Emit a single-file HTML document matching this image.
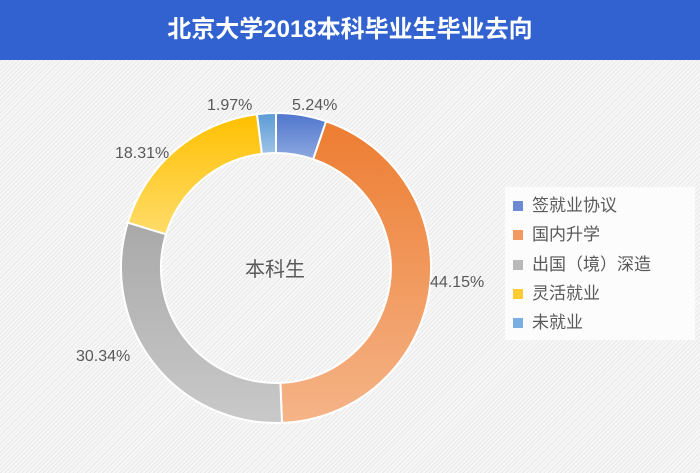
<!DOCTYPE html>
<html><head><meta charset="utf-8"><style>
body{margin:0;width:700px;height:473px;overflow:hidden;font-family:"Liberation Sans","Noto Sans CJK SC",sans-serif;}
.bg{position:absolute;left:0;top:0;width:700px;height:473px;background:repeating-linear-gradient(-45deg,#f7f7f7 0 2px,#e9e9e9 2px 3px);}
.title{position:absolute;left:0;top:0;width:700px;height:60px;background:#3162d0;color:#fff;font-weight:bold;font-size:24px;line-height:60px;text-align:center;}
.legend{position:absolute;left:505px;top:187px;width:190px;height:153px;background:rgba(255,255,255,0.75);}
.li{position:absolute;left:8px;font-size:17px;color:#595959;height:20px;line-height:20px;}
.li i{display:inline-block;width:10px;height:10px;margin-right:9px;vertical-align:0px;}
</style></head><body>
<div class="bg"></div>
<svg width="700" height="473" style="position:absolute;left:0;top:0">
<defs>
<linearGradient id="gb" x1="0" y1="0" x2="0" y2="1"><stop offset="0" stop-color="#4f75cc"/><stop offset="1" stop-color="#8ea9e0"/></linearGradient>
<linearGradient id="go" x1="0" y1="0" x2="0" y2="1"><stop offset="0" stop-color="#ed7d31"/><stop offset="1" stop-color="#f5b488"/></linearGradient>
<linearGradient id="gg" x1="0" y1="1" x2="0" y2="0"><stop offset="0" stop-color="#c9c9c9"/><stop offset="1" stop-color="#a9a9a9"/></linearGradient>
<linearGradient id="gy" x1="0" y1="0" x2="0" y2="1"><stop offset="0" stop-color="#ffc000"/><stop offset="1" stop-color="#ffdc6a"/></linearGradient>
<linearGradient id="gl" x1="0" y1="0" x2="0" y2="1"><stop offset="0" stop-color="#5b9bd5"/><stop offset="1" stop-color="#9dc3e6"/></linearGradient>
</defs>
<g stroke="#fff" stroke-width="2">
<path d="M276,113 A155,155 0 0 1 326.1,121.3 L313.2,159.2 A115,115 0 0 0 276,153 Z" fill="url(#gb)"/>
<path d="M326.1,121.3 A155,155 0 0 1 282.0,422.9 L280.4,382.9 A115,115 0 0 0 313.2,159.2 Z" fill="url(#go)"/>
<path d="M282.0,422.9 A155,155 0 0 1 127.8,222.6 L166.0,234.3 A115,115 0 0 0 280.4,382.9 Z" fill="url(#gg)"/>
<path d="M127.8,222.6 A155,155 0 0 1 257.0,114.2 L261.9,153.9 A115,115 0 0 0 166.0,234.3 Z" fill="url(#gy)"/>
<path d="M257.0,114.2 A155,155 0 0 1 276,113 L276,153 A115,115 0 0 0 261.9,153.9 Z" fill="url(#gl)"/>
</g>
<g font-size="16" fill="#595959" font-family="Liberation Sans, sans-serif">
<text x="207" y="110">1.97%</text>
<text x="292" y="110">5.24%</text>
<text x="115" y="158">18.31%</text>
<text x="430" y="287">44.15%</text>
<text x="76" y="361">30.34%</text>
</g>
<text x="275" y="276" font-size="20" fill="#595959" text-anchor="middle" font-family="Liberation Sans, Noto Sans CJK SC, sans-serif">本科生</text>
</svg>
<div class="title">北京大学2018本科毕业生毕业去向</div>
<div class="legend">
<div class="li" style="top:9px"><i style="background:#6a8bd4"></i>签就业协议</div>
<div class="li" style="top:38px"><i style="background:#f29860"></i>国内升学</div>
<div class="li" style="top:68px"><i style="background:#b9b9b9"></i>出国（境）深造</div>
<div class="li" style="top:97px"><i style="background:#ffcb33"></i>灵活就业</div>
<div class="li" style="top:126px"><i style="background:#7aaee0"></i>未就业</div>
</div>
</body></html>
